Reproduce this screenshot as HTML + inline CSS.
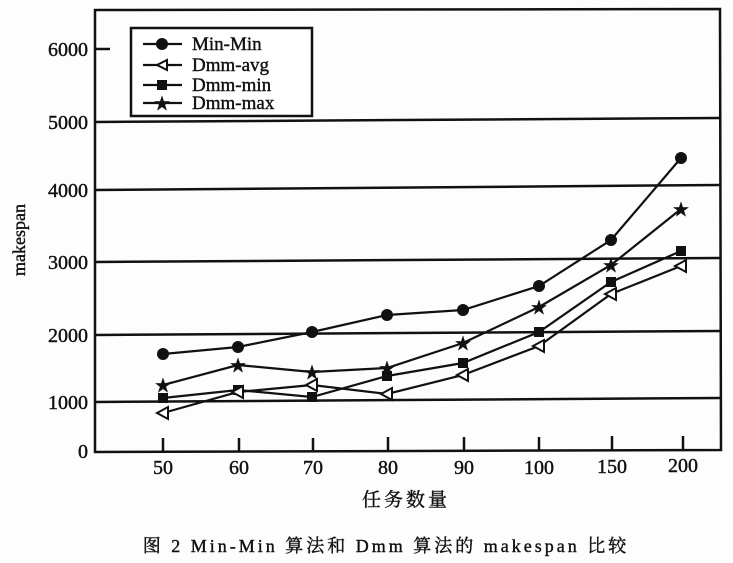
<!DOCTYPE html>
<html><head><meta charset="utf-8"><style>
html,body{margin:0;padding:0;background:#fff;}
svg{display:block;}
text{font-family:"Liberation Serif","Noto Serif CJK SC",serif;fill:#111;stroke:#111;stroke-width:0.4;}
</style></head><body>
<svg width="733" height="563" viewBox="0 0 733 563" xmlns="http://www.w3.org/2000/svg">
<rect width="733" height="563" fill="#fdfdfd"/>
<g stroke="#111" stroke-width="2.5" fill="none">
<path d="M95 10 L720 9 L721 450 L95 452 Z"/>
<line x1="95" y1="122" x2="720" y2="118"/>
<line x1="95" y1="190" x2="720" y2="185"/>
<line x1="95" y1="262" x2="720" y2="258"/>
<line x1="95" y1="335" x2="720" y2="331"/>
<line x1="95" y1="402" x2="720" y2="398"/>
<line x1="95" y1="49" x2="110" y2="49"/>
<line x1="163" y1="452" x2="163" y2="438"/>
<line x1="239" y1="452" x2="239" y2="438"/>
<line x1="313" y1="452" x2="313" y2="438"/>
<line x1="388" y1="451" x2="388" y2="437"/>
<line x1="464" y1="451" x2="464" y2="437"/>
<line x1="539" y1="451" x2="539" y2="437"/>
<line x1="612" y1="451" x2="612" y2="436"/>
<line x1="683" y1="450" x2="683" y2="436"/>
</g>
<g font-size="20" text-anchor="end">
<text x="88" y="56">6000</text>
<text x="88" y="129">5000</text>
<text x="88" y="197">4000</text>
<text x="88" y="269">3000</text>
<text x="88" y="342">2000</text>
<text x="88" y="409">1000</text>
<text x="88" y="458">0</text>
</g>
<g font-size="20" text-anchor="middle">
<text x="163" y="474">50</text><text x="239" y="474">60</text><text x="313" y="474">70</text>
<text x="388" y="474">80</text><text x="464" y="474">90</text><text x="539" y="474">100</text>
<text x="612" y="473">150</text><text x="683" y="472">200</text>
</g>
<text x="0" y="0" font-size="18" text-anchor="middle" transform="translate(25,240) rotate(-90)">makespan</text>
<text x="406" y="506" font-size="19" text-anchor="middle" letter-spacing="3">任务数量</text>
<text x="386" y="552" font-size="18" text-anchor="middle" letter-spacing="3">图 2  Min-Min 算法和 Dmm 算法的 makespan 比较</text>
<g stroke="#111" stroke-width="2.2" fill="none">
<polyline points="163,354 238,347 312,332 387,315 463,310 539,286 611,240 681,158"/>
<polyline points="163,385 238,365 312,372 387,368 463,343 539,307 611,265 681,209"/>
<polyline points="163,398 238,390 312,397 387,376 463,363 539,332 611,282 681,251"/>
<polyline points="163,413 238,392 312,385 387,394 463,375 539,346 611,294 681,266"/>
</g>
<g fill="#111">
<circle cx="163" cy="354" r="6"/><circle cx="238" cy="347" r="6"/><circle cx="312" cy="332" r="6"/><circle cx="387" cy="315" r="6"/><circle cx="463" cy="310" r="6"/><circle cx="539" cy="286" r="6"/><circle cx="611" cy="240" r="6"/><circle cx="681" cy="158" r="6"/>
<rect x="158" y="393" width="10" height="10"/><rect x="233" y="385" width="10" height="10"/><rect x="307" y="392" width="10" height="10"/><rect x="382" y="371" width="10" height="10"/><rect x="458" y="358" width="10" height="10"/><rect x="534" y="327" width="10" height="10"/><rect x="606" y="277" width="10" height="10"/><rect x="676" y="246" width="10" height="10"/>
</g>
<g fill="#111" font-size="16" text-anchor="middle" font-family="DejaVu Sans">
<text x="163" y="391">★</text><text x="238" y="371">★</text><text x="312" y="378">★</text><text x="387" y="374">★</text><text x="463" y="349">★</text><text x="539" y="313">★</text><text x="611" y="271">★</text><text x="681" y="215">★</text>
</g>
<g fill="#fff" stroke="#111" stroke-width="2">
<polygon points="157,413 168,407 168,419"/><polygon points="232,392 243,386 243,398"/><polygon points="306,385 317,379 317,391"/><polygon points="381,394 392,388 392,400"/><polygon points="457,375 468,369 468,381"/><polygon points="533,346 544,340 544,352"/><polygon points="605,294 616,288 616,300"/><polygon points="675,266 686,260 686,272"/>
</g>
<rect x="131" y="28" width="181" height="88" fill="#fff" stroke="#111" stroke-width="2.5"/>
<g stroke="#111" stroke-width="2.2">
<line x1="143" y1="44" x2="182" y2="44"/><line x1="143" y1="65" x2="182" y2="65"/>
<line x1="143" y1="85" x2="182" y2="85"/><line x1="143" y1="103" x2="182" y2="103"/>
</g>
<circle cx="162" cy="44" r="6" fill="#111"/>
<polygon points="157,65 167,60 167,70" fill="#fff" stroke="#111" stroke-width="2"/>
<rect x="157" y="80" width="10" height="10" fill="#111"/>
<text x="162" y="109" font-size="16" text-anchor="middle" font-family="DejaVu Sans">★</text>
<g font-size="19">
<text x="192" y="50">Min-Min</text>
<text x="192" y="71">Dmm-avg</text>
<text x="192" y="91">Dmm-min</text>
<text x="192" y="109">Dmm-max</text>
</g>
</svg>
</body></html>
